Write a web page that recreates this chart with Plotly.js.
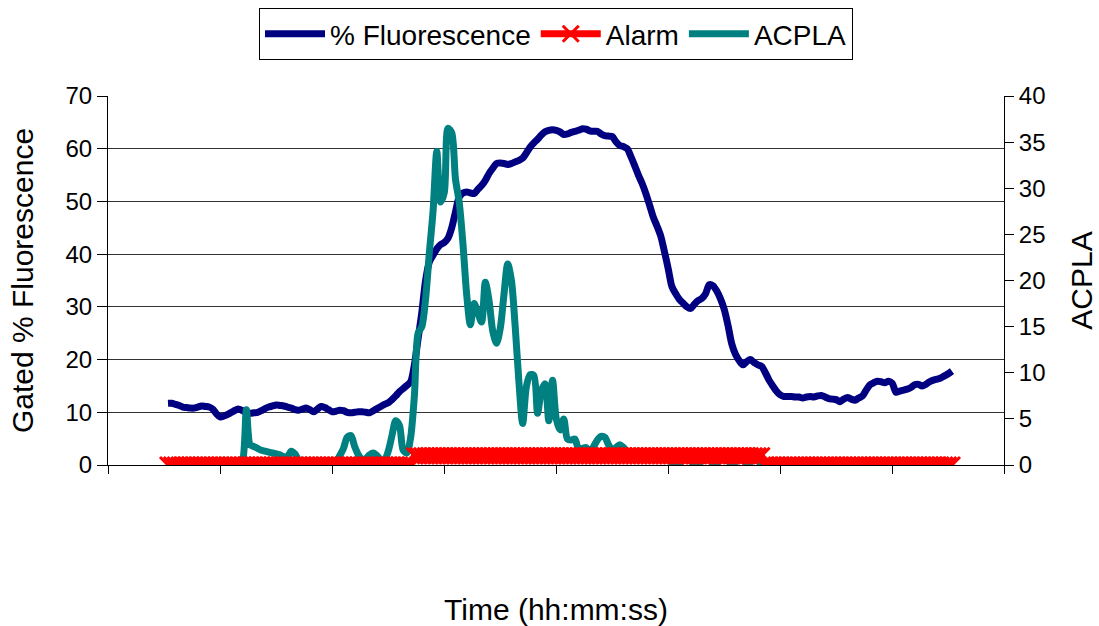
<!DOCTYPE html>
<html>
<head>
<meta charset="utf-8">
<script src="https://cdn.plot.ly/plotly-3.0.1.min.js"></script>
<style>html,body{margin:0;padding:0;background:#fff;}#chart{width:1099px;height:626px;}</style>
</head>
<body>
<div id="chart"></div>
<script>
// Sample index (time steps); no time tick labels shown on the chart
const sampleIndex = Array.from({length: 211}, (_, i) => i);

const fluorescence = [
11.7,11.7,11.5,11.3,11.0,10.9,10.8,10.8,11.0,11.2,
11.1,11.0,10.6,9.7,9.1,9.3,9.6,10.0,10.4,10.6,
10.3,9.9,9.8,9.9,10.0,10.3,10.7,11.0,11.2,11.4,
11.3,11.2,11.0,10.8,10.5,10.4,10.6,10.8,10.5,10.1,
10.6,11.1,10.9,10.5,10.1,10.2,10.4,10.3,10.0,9.9,
10.0,10.1,10.1,10.0,9.9,10.3,10.7,11.1,11.5,11.8,
12.4,13.1,13.9,14.5,15.1,15.8,19.0,24.0,29.0,35.0,
38.5,39.8,41.0,41.8,42.2,43.0,45.0,48.0,50.8,51.6,
51.8,51.6,51.5,52.3,53.0,54.0,55.3,56.3,57.2,57.3,
57.2,57.0,57.2,57.5,57.8,58.2,59.2,60.3,61.1,61.8,
62.6,63.2,63.5,63.6,63.5,63.2,62.7,62.8,63.1,63.3,
63.5,63.8,63.7,63.4,63.3,63.3,62.8,62.5,62.4,62.3,
61.3,60.6,60.4,60.0,58.5,56.8,55.0,53.4,51.5,49.3,
47.0,45.3,43.4,40.4,37.2,33.8,32.5,31.4,30.7,30.0,
29.7,30.5,31.2,31.6,32.5,34.2,34.0,33.0,31.5,29.5,
26.5,23.0,21.0,19.8,19.0,19.6,20.0,19.4,19.0,18.7,
17.5,16.1,15.0,14.0,13.3,13.0,13.0,13.0,12.9,12.9,
12.7,12.9,13.0,12.9,13.1,13.2,12.9,12.6,12.5,12.4,
12.0,12.5,12.8,12.5,12.3,12.7,13.1,14.2,15.2,15.6,
15.9,15.8,15.6,15.9,15.5,13.8,14.0,14.2,14.4,14.7,
15.2,15.3,15.0,15.3,15.8,16.1,16.3,16.5,16.9,17.3,17.8
];

const alarm = [
0,0,0,0,0,0,0,0,0,0, 0,0,0,0,0,0,0,0,0,0,
0,0,0,0,0,0,0,0,0,0, 0,0,0,0,0,0,0,0,0,0,
0,0,0,0,0,0,0,0,0,0, 0,0,0,0,0,0,0,0,0,0,
0,0,0,0,0,0,1,1,1,1, 1,1,1,1,1,1,1,1,1,1,
1,1,1,1,1,1,1,1,1,1, 1,1,1,1,1,1,1,1,1,1,
1,1,1,1,1,1,1,1,1,1, 1,1,1,1,1,1,1,1,1,1,
1,1,1,1,1,1,1,1,1,1, 1,1,1,1,1,1,1,1,1,1,
1,1,1,1,1,1,1,1,1,1, 1,1,1,1,1,1,1,1,1,1,
0,0,0,0,0,0,0,0,0,0, 0,0,0,0,0,0,0,0,0,0,
0,0,0,0,0,0,0,0,0,0, 0,0,0,0,0,0,0,0,0,0,
0,0,0,0,0,0,0,0,0,0, 0
];

const acpla = [
0,0,0,0,0,0,0,0,0,0,
0,0,0,0,0,0,0,0,0,0,
0.5,6.0,2.2,2.0,1.8,1.6,1.5,1.4,1.3,1.2,
1.1,0.9,0.9,1.5,1.2,0.5,0.1,0,0,0,
0,0,0,0,0,0.3,1.0,1.8,3.0,3.2,
2.0,1.1,0.6,0.7,1.1,1.3,1.0,0.6,0.6,1.5,
3.2,4.8,4.3,1.6,1.3,3.0,7.5,14.3,15.0,18.0,
23.0,27.5,34.0,28.5,29.5,36.5,36.0,31.0,28.5,24.0,
18.5,15.2,17.5,16.5,15.5,19.8,17.8,14.5,13.2,14.8,
18.5,21.8,20.0,15.0,9.0,4.5,8.5,9.8,9.7,5.6,
8.0,8.8,4.8,9.2,5.0,3.8,5.0,2.8,2.7,2.8,
1.7,1.8,1.9,1.4,2.0,2.7,3.1,3.0,2.2,1.6,
1.9,2.2,1.9,1.5,1.4,1.2,1.0,1.0,1.1,1.2,
1.4,1.5,1.3,0.9,0.5,0.3,0.2,0.2,0.5,0.6,
0.4,0.2,0.2,0.4,0.6,0.5,0.2,0.2,0.5,0.6,
0.4,0.2,0.3,0.6,0.5,0.2,0.3,0.6,0.4,0.2,
0,0,0,0,0,0,0,0,0,0,
0,0,0,0,0,0,0,0,0,0,
0,0,0,0,0,0,0,0,0,0,
0,0,0,0,0,0,0,0,0,0,
0,0,0,0,0,0,0,0,0,0,0
];

const seriesNames = ['% Fluorescence', 'Alarm', 'ACPLA'];
const leftTicks = [0,10,20,30,40,50,60,70];
const rightTicks = [0,5,10,15,20,25,30,35,40];

const FONT = 'Liberation Sans, Arial, sans-serif';

const traces = [
  {
    x: sampleIndex, y: fluorescence, name: seriesNames[0], type: 'scatter', mode: 'lines',
    line: {color: '#000080', width: 7, shape: 'spline', smoothing: 0.8},
    yaxis: 'y', legendrank: 1
  },
  {
    x: sampleIndex, y: acpla, name: seriesNames[2], type: 'scatter', mode: 'lines',
    line: {color: '#008080', width: 7, shape: 'spline', smoothing: 0.8},
    yaxis: 'y2', legendrank: 3
  },
  {
    x: sampleIndex, y: alarm, name: seriesNames[1], type: 'scatter', mode: 'lines+markers',
    line: {color: '#FF0000', width: 7},
    marker: {symbol: 'x-thin', size: 16, color: '#FF0000', line: {color: '#FF0000', width: 3}},
    yaxis: 'y2', legendrank: 2
  }
];

const layout = {
  width: 1099, height: 626,
  margin: {l: 108, r: 95, t: 96, b: 161, pad: 0, autoexpand: false},
  paper_bgcolor: '#ffffff', plot_bgcolor: '#ffffff',
  font: {family: FONT, color: '#000', size: 24},
  showlegend: true,
  legend: {
    orientation: 'h', x: 0.5, xanchor: 'center', y: 1.2385, yanchor: 'top',
    bordercolor: '#000', borderwidth: 1, bgcolor: '#fff',
    font: {family: FONT, size: 28, color: '#000'},
    traceorder: 'normal', itemwidth: 60
  },
  xaxis: {
    range: [-16.07, 223.93], tick0: -16.07, dtick: 30, tickmode: 'linear',
    showticklabels: false, ticks: 'outside', ticklen: 8, tickwidth: 1, tickcolor: '#000',
    showline: true, linecolor: '#000', linewidth: 1, showgrid: false, zeroline: false,
    title: {text: 'Time (hh:mm:ss)', font: {family: FONT, size: 30}, standoff: 128}
  },
  yaxis: {
    range: [0, 70], tickvals: leftTicks, ticktext: leftTicks.map(String),
    ticks: 'outside', ticklen: 10, tickwidth: 1, tickcolor: '#000',
    showline: true, linecolor: '#000', linewidth: 1,
    showgrid: true, gridcolor: '#333', gridwidth: 1, zeroline: false,
    tickfont: {family: FONT, size: 24},
    title: {text: 'Gated % Fluorescence', font: {family: FONT, size: 30}, standoff: 22}
  },
  yaxis2: {
    range: [0, 40], tickvals: rightTicks, ticktext: rightTicks.map(String),
    overlaying: 'y', side: 'right',
    ticks: 'outside', ticklen: 9, tickwidth: 1, tickcolor: '#000',
    showline: true, linecolor: '#000', linewidth: 1,
    showgrid: false, zeroline: false,
    tickfont: {family: FONT, size: 24},
    title: {text: 'ACPLA', font: {family: FONT, size: 30}, standoff: 26}
  }
};

Plotly.newPlot('chart', traces, layout, {displayModeBar: false, staticPlot: true});
</script>
</body>
</html>
